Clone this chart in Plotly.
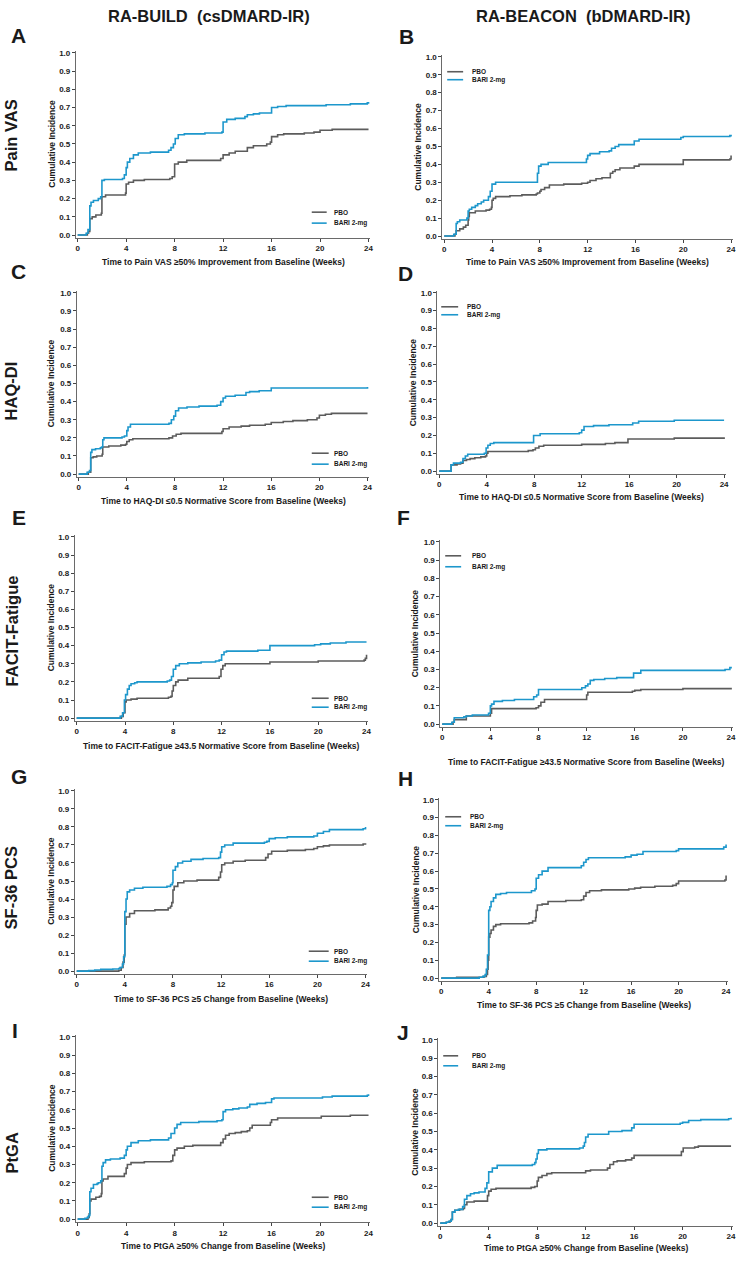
import plotly.graph_objects as go

W, H = 749, 1263
BLUE = "#1d97cc"
GREY = "#5c5c5c"
FONT = "Liberation Sans"

WEEK_TICKS = [0, 4, 8, 12, 16, 20, 24]
CI_TICKS = [0.0, 0.1, 0.2, 0.3, 0.4, 0.5, 0.6, 0.7, 0.8, 0.9, 1.0]
GROUPS = ["PBO", "BARI 2-mg"]
STUDIES = ["RA-BUILD\u00a0 (csDMARD-IR)", "RA-BEACON\u00a0 (bDMARD-IR)"]
OUTCOMES = ["Pain VAS", "HAQ-DI", "FACIT-Fatigue", "SF-36 PCS", "PtGA"]
X_TITLES = [
    "Time to Pain VAS \u226550% Improvement from Baseline (Weeks)",
    "Time to HAQ-DI \u22640.5 Normative Score from Baseline (Weeks)",
    "Time to FACIT-Fatigue \u226543.5 Normative Score from Baseline (Weeks)",
    "Time to SF-36 PCS \u22655 Change from Baseline (Weeks)",
    "Time to PtGA \u226550% Change from Baseline (Weeks)",
]

# step points (week, cumulative incidence)
A_PBO = [(0, 0), (0.8, 0.01), (0.9, 0.02), (1.0, 0.09), (1.2, 0.10), (1.5, 0.11), (1.95, 0.12), (2.0, 0.21),
         (2.3, 0.22), (3.95, 0.23), (4.0, 0.28), (4.2, 0.29), (4.6, 0.30), (5.5, 0.305), (7.6, 0.31), (7.8, 0.32),
         (8.0, 0.39), (8.3, 0.40), (9.0, 0.41), (11.8, 0.42), (12.0, 0.44), (12.5, 0.45), (13.0, 0.46), (14.0, 0.48),
         (14.5, 0.49), (15.6, 0.50), (15.9, 0.51), (16.0, 0.54), (16.5, 0.55), (17.0, 0.555), (18.7, 0.56),
         (19.5, 0.565), (20.0, 0.575), (21.0, 0.58), (24.0, 0.58)]
A_BARI = [(0, 0), (0.7, 0.01), (0.85, 0.03), (1.0, 0.16), (1.1, 0.18), (1.3, 0.19), (1.7, 0.20), (1.9, 0.21),
          (2.0, 0.30), (2.2, 0.305), (3.7, 0.31), (3.85, 0.33), (4.0, 0.37), (4.1, 0.40), (4.3, 0.42), (4.6, 0.44),
          (5.0, 0.45), (6.0, 0.455), (7.5, 0.465), (7.7, 0.48), (7.9, 0.50), (8.05, 0.53), (8.3, 0.55), (8.8, 0.555),
          (10.5, 0.56), (11.9, 0.565), (12.0, 0.62), (12.3, 0.635), (13.0, 0.64), (13.8, 0.65), (14.0, 0.66),
          (14.5, 0.665), (15.0, 0.67), (16.0, 0.70), (16.5, 0.705), (17.2, 0.71), (20.5, 0.715), (22.5, 0.72),
          (23.9, 0.725), (24.0, 0.73)]
B_PBO = [(0, 0), (0.9, 0.01), (1.0, 0.03), (1.3, 0.04), (1.6, 0.05), (1.8, 0.06), (2.0, 0.09), (2.05, 0.11),
         (2.1, 0.13), (2.6, 0.14), (3.5, 0.145), (3.8, 0.15), (3.95, 0.16), (4.0, 0.20), (4.1, 0.21), (4.3, 0.22),
         (5.5, 0.225), (6.5, 0.23), (7.7, 0.235), (7.8, 0.24), (8.0, 0.25), (8.1, 0.26), (8.4, 0.27), (8.8, 0.285),
         (10.0, 0.29), (11.5, 0.295), (12.0, 0.30), (12.2, 0.31), (12.7, 0.32), (13.2, 0.325), (13.9, 0.35),
         (14.1, 0.36), (14.3, 0.37), (14.7, 0.38), (15.9, 0.39), (16.3, 0.40), (20.0, 0.425), (23.9, 0.43),
         (24.0, 0.45)]
B_BARI = [(0, 0), (0.8, 0.01), (1.0, 0.07), (1.1, 0.08), (1.3, 0.09), (1.9, 0.10), (2.0, 0.14), (2.1, 0.15),
          (2.3, 0.16), (2.6, 0.17), (2.8, 0.18), (3.1, 0.19), (3.3, 0.20), (3.7, 0.22), (3.85, 0.25), (4.0, 0.29),
          (4.3, 0.30), (7.8, 0.35), (7.9, 0.39), (8.1, 0.40), (8.7, 0.41), (11.9, 0.43), (12.0, 0.45), (12.2, 0.46),
          (13.0, 0.47), (13.8, 0.475), (14.0, 0.49), (14.3, 0.50), (14.6, 0.51), (15.9, 0.53), (16.3, 0.54),
          (19.8, 0.55), (20.0, 0.555), (23.9, 0.56), (24.0, 0.565)]
C_PBO = [(0, 0), (0.8, 0.01), (1.0, 0.09), (1.2, 0.095), (1.5, 0.10), (1.95, 0.11), (2.0, 0.15), (2.5, 0.155),
         (3.5, 0.16), (3.9, 0.165), (4.0, 0.18), (4.2, 0.19), (4.5, 0.195), (7.5, 0.20), (7.8, 0.21), (8.1, 0.22),
         (8.5, 0.225), (11.9, 0.235), (12.0, 0.25), (12.5, 0.26), (13.5, 0.265), (14.2, 0.27), (15.5, 0.275),
         (16.0, 0.285), (17.0, 0.29), (17.8, 0.295), (19.0, 0.30), (19.8, 0.31), (20.0, 0.325), (20.5, 0.33),
         (21.0, 0.335), (24.0, 0.335)]
C_BARI = [(0, 0), (0.7, 0.01), (0.9, 0.02), (1.0, 0.12), (1.1, 0.135), (1.4, 0.14), (1.8, 0.145), (1.9, 0.15),
          (2.0, 0.19), (2.1, 0.20), (3.6, 0.205), (3.8, 0.21), (4.0, 0.24), (4.1, 0.26), (4.3, 0.275), (7.5, 0.28),
          (7.7, 0.30), (7.9, 0.32), (8.05, 0.35), (8.3, 0.365), (9.0, 0.37), (10.0, 0.375), (11.5, 0.38),
          (11.8, 0.40), (12.0, 0.42), (12.2, 0.43), (13.0, 0.435), (13.9, 0.45), (14.2, 0.455), (15.0, 0.46),
          (16.0, 0.475), (23.9, 0.475), (24.0, 0.48)]
D_PBO = [(0, 0), (1.0, 0.035), (1.5, 0.04), (1.8, 0.045), (2.0, 0.06), (2.3, 0.065), (2.6, 0.07), (3.0, 0.075),
         (3.5, 0.08), (3.9, 0.085), (4.0, 0.10), (4.1, 0.11), (7.5, 0.115), (7.9, 0.12), (8.1, 0.13), (8.4, 0.14),
         (8.8, 0.145), (12.0, 0.15), (14.0, 0.155), (14.8, 0.16), (15.9, 0.18), (19.8, 0.185), (24.0, 0.19)]
D_BARI = [(0, 0), (1.0, 0.035), (1.2, 0.045), (1.8, 0.05), (2.0, 0.07), (2.2, 0.085), (2.4, 0.095), (3.8, 0.10),
          (3.95, 0.13), (4.1, 0.145), (4.3, 0.155), (4.6, 0.16), (7.95, 0.20), (8.5, 0.21), (11.8, 0.215),
          (12.0, 0.23), (12.2, 0.25), (13.0, 0.255), (14.3, 0.26), (16.3, 0.27), (16.8, 0.28), (19.8, 0.285),
          (24.0, 0.285)]
E_PBO = [(0, 0), (3.7, 0.01), (3.85, 0.03), (4.0, 0.09), (4.1, 0.10), (4.5, 0.105), (5.0, 0.11), (7.6, 0.115),
         (7.8, 0.12), (7.9, 0.15), (8.0, 0.18), (8.2, 0.20), (8.4, 0.21), (9.2, 0.22), (11.8, 0.23), (11.95, 0.27),
         (12.1, 0.29), (12.3, 0.30), (16.0, 0.31), (20.0, 0.315), (23.8, 0.32), (23.9, 0.33), (24.0, 0.35)]
E_BARI = [(0, 0), (3.6, 0.01), (3.8, 0.03), (3.95, 0.10), (4.05, 0.13), (4.2, 0.16), (4.35, 0.18), (4.5, 0.19),
          (4.8, 0.195), (5.0, 0.20), (7.5, 0.205), (7.7, 0.21), (7.85, 0.23), (8.0, 0.27), (8.2, 0.29), (8.5, 0.30),
          (9.2, 0.305), (10.3, 0.31), (11.5, 0.315), (11.8, 0.32), (12.0, 0.35), (12.2, 0.365), (12.4, 0.37),
          (15.0, 0.375), (16.0, 0.40), (19.7, 0.405), (20.2, 0.41), (21.0, 0.415), (22.3, 0.42), (24.0, 0.42)]
F_PBO = [(0, 0), (0.9, 0.01), (1.0, 0.025), (2.0, 0.045), (4.0, 0.06), (4.1, 0.085), (7.8, 0.09), (8.0, 0.10),
         (8.2, 0.12), (8.5, 0.135), (12.0, 0.16), (12.1, 0.175), (15.8, 0.18), (16.0, 0.185), (16.5, 0.19),
         (20.0, 0.195), (24.0, 0.20)]
F_BARI = [(0, 0), (0.8, 0.01), (1.0, 0.035), (1.8, 0.04), (2.0, 0.045), (2.5, 0.05), (3.85, 0.06), (4.0, 0.10),
          (4.1, 0.11), (4.3, 0.125), (5.0, 0.13), (6.0, 0.135), (7.6, 0.15), (7.85, 0.16), (8.0, 0.19),
          (11.6, 0.20), (11.9, 0.21), (12.1, 0.22), (12.3, 0.24), (12.6, 0.245), (13.5, 0.25), (14.5, 0.255),
          (15.9, 0.28), (16.5, 0.295), (23.5, 0.30), (23.9, 0.31), (24.0, 0.315)]
G_PBO = [(0, 0), (3.5, 0.005), (3.7, 0.02), (3.85, 0.05), (3.95, 0.09), (4.0, 0.26), (4.1, 0.30), (4.4, 0.32),
         (4.8, 0.335), (6.5, 0.34), (7.6, 0.35), (7.8, 0.36), (7.9, 0.38), (8.0, 0.45), (8.1, 0.47), (8.4, 0.49),
         (8.9, 0.50), (10.0, 0.505), (11.8, 0.52), (11.95, 0.55), (12.05, 0.59), (12.3, 0.60), (13.0, 0.61),
         (14.0, 0.615), (15.7, 0.63), (15.9, 0.65), (16.2, 0.665), (17.5, 0.67), (19.0, 0.675), (19.7, 0.68),
         (20.0, 0.69), (20.5, 0.695), (21.0, 0.70), (23.8, 0.705), (24.0, 0.71)]
G_BARI = [(0, 0), (1.0, 0.003), (1.5, 0.006), (2.0, 0.01), (3.0, 0.012), (3.5, 0.015), (3.6, 0.02), (3.8, 0.04),
          (3.9, 0.08), (4.0, 0.33), (4.1, 0.40), (4.2, 0.44), (4.4, 0.45), (4.8, 0.46), (5.5, 0.465), (7.5, 0.47),
          (7.8, 0.48), (7.95, 0.49), (8.0, 0.56), (8.2, 0.58), (8.4, 0.60), (8.8, 0.61), (9.5, 0.62),
          (10.5, 0.625), (11.8, 0.63), (11.95, 0.66), (12.05, 0.69), (12.3, 0.70), (13.0, 0.71), (15.6, 0.715),
          (15.8, 0.72), (16.0, 0.735), (16.5, 0.74), (17.5, 0.745), (19.7, 0.75), (20.0, 0.765), (20.5, 0.775),
          (21.0, 0.785), (23.8, 0.79), (24.0, 0.80)]
H_PBO = [(0, 0), (1.3, 0.005), (3.6, 0.01), (3.8, 0.02), (3.9, 0.05), (3.95, 0.10), (4.0, 0.23), (4.1, 0.25),
         (4.2, 0.27), (4.4, 0.29), (4.6, 0.30), (5.0, 0.305), (7.4, 0.31), (7.7, 0.32), (7.95, 0.34), (8.0, 0.38),
         (8.1, 0.41), (8.5, 0.415), (9.0, 0.43), (10.5, 0.435), (11.8, 0.44), (12.0, 0.46), (12.2, 0.48),
         (12.5, 0.49), (13.5, 0.495), (15.8, 0.50), (16.3, 0.505), (16.8, 0.51), (18.0, 0.515), (19.5, 0.52),
         (19.8, 0.53), (20.0, 0.545), (23.9, 0.55), (24.0, 0.575)]
H_BARI = [(0, 0), (3.2, 0.005), (3.5, 0.01), (3.7, 0.02), (3.8, 0.05), (3.9, 0.13), (4.0, 0.38), (4.1, 0.40),
          (4.2, 0.43), (4.4, 0.45), (4.6, 0.47), (5.0, 0.475), (5.5, 0.48), (7.6, 0.49), (7.9, 0.50), (8.0, 0.56),
          (8.2, 0.58), (8.5, 0.60), (9.0, 0.62), (11.8, 0.63), (12.0, 0.65), (12.2, 0.665), (12.4, 0.675),
          (15.5, 0.68), (16.0, 0.69), (16.5, 0.695), (17.0, 0.71), (19.8, 0.715), (20.0, 0.725), (23.8, 0.735),
          (24.0, 0.75)]
I_PBO = [(0, 0), (0.85, 0.01), (0.95, 0.03), (1.0, 0.10), (1.1, 0.11), (1.5, 0.12), (1.8, 0.125), (1.95, 0.14),
         (2.0, 0.21), (2.1, 0.22), (2.5, 0.235), (3.85, 0.25), (4.0, 0.28), (4.1, 0.30), (4.4, 0.31), (5.5, 0.315),
         (7.7, 0.32), (7.85, 0.35), (8.0, 0.38), (8.2, 0.39), (8.8, 0.40), (9.5, 0.405), (11.8, 0.42), (12.0, 0.44),
         (12.2, 0.46), (12.5, 0.47), (13.0, 0.475), (13.5, 0.48), (14.0, 0.485), (14.2, 0.50), (14.4, 0.515),
         (15.9, 0.53), (16.0, 0.545), (16.5, 0.555), (20.1, 0.565), (22.5, 0.57), (24.0, 0.57)]
I_BARI = [(0, 0), (0.6, 0.005), (0.8, 0.01), (0.9, 0.02), (1.0, 0.15), (1.1, 0.17), (1.3, 0.19), (1.6, 0.195),
          (1.7, 0.20), (1.9, 0.21), (2.0, 0.29), (2.1, 0.31), (2.3, 0.325), (2.7, 0.33), (3.5, 0.335), (3.85, 0.35),
          (4.0, 0.38), (4.1, 0.40), (4.4, 0.42), (5.0, 0.43), (6.0, 0.435), (7.5, 0.445), (7.7, 0.47), (8.0, 0.50),
          (8.2, 0.52), (8.5, 0.53), (10.0, 0.535), (11.5, 0.54), (11.9, 0.545), (12.0, 0.59), (12.2, 0.60),
          (12.8, 0.605), (13.3, 0.61), (14.0, 0.615), (14.2, 0.63), (14.8, 0.635), (15.5, 0.64), (16.0, 0.66),
          (16.2, 0.665), (20.2, 0.67), (21.0, 0.675), (23.9, 0.68), (24.0, 0.685)]
J_PBO = [(0, 0), (0.5, 0.005), (0.8, 0.01), (0.9, 0.02), (1.0, 0.06), (1.2, 0.07), (1.6, 0.075), (1.9, 0.08),
         (2.0, 0.10), (2.2, 0.115), (2.8, 0.12), (3.9, 0.15), (4.0, 0.175), (4.2, 0.185), (4.6, 0.19), (7.5, 0.195),
         (7.8, 0.20), (8.0, 0.23), (8.1, 0.25), (8.4, 0.26), (8.8, 0.27), (9.2, 0.275), (12.0, 0.285), (12.4, 0.29),
         (13.8, 0.30), (14.0, 0.32), (14.3, 0.335), (14.6, 0.34), (15.3, 0.345), (15.8, 0.355), (16.0, 0.37),
         (19.9, 0.39), (20.05, 0.41), (21.0, 0.415), (21.3, 0.42), (24.0, 0.42)]
J_BARI = [(0, 0), (0.5, 0.005), (0.7, 0.01), (0.9, 0.02), (1.0, 0.06), (1.2, 0.07), (1.5, 0.075), (1.85, 0.09),
          (2.0, 0.13), (2.2, 0.15), (2.5, 0.16), (2.8, 0.165), (3.2, 0.17), (3.7, 0.19), (3.85, 0.22), (4.0, 0.28),
          (4.3, 0.30), (4.7, 0.315), (7.6, 0.32), (7.8, 0.33), (7.9, 0.35), (8.0, 0.38), (8.1, 0.40), (8.8, 0.405),
          (11.5, 0.41), (11.8, 0.42), (11.9, 0.44), (12.0, 0.47), (12.2, 0.485), (13.9, 0.50), (15.0, 0.505),
          (15.8, 0.52), (16.0, 0.54), (19.8, 0.545), (20.0, 0.55), (20.5, 0.56), (21.5, 0.565), (23.8, 0.57),
          (24.0, 0.575)]

SERIES = {
    "A": (A_PBO, A_BARI), "B": (B_PBO, B_BARI), "C": (C_PBO, C_BARI), "D": (D_PBO, D_BARI),
    "E": (E_PBO, E_BARI), "F": (F_PBO, F_BARI), "G": (G_PBO, G_BARI), "H": (H_PBO, H_BARI),
    "I": (I_PBO, I_BARI), "J": (J_PBO, J_BARI),
}

# layout in pixels: x of week 0, x of week 24, y of 1.0, y of 0.0, y-title x, x-title y,
# legend (line x0, line x1, text x, y row1, y row2), panel letter (x, y)
GEOM = {
    "A": (78, 370, 53, 236, 52, 263, (313, 328, 333, 213, 224), (19, 36)),
    "B": (446, 734, 57, 237, 420, 263, (449, 465, 472, 72, 80), (408, 37)),
    "C": (79, 369, 294, 476, 52, 503, (313, 330, 333, 455, 466), (19, 273)),
    "D": (441, 727, 294, 473, 415, 499, (443, 460, 467, 308, 316), (407, 275)),
    "E": (77, 368, 539, 721, 51, 749, (313, 330, 333, 701, 710), (19, 520)),
    "F": (444, 734, 544, 727, 417, 765, (447, 463, 472, 558, 569), (405, 520)),
    "G": (77, 367, 794, 975, 51, 1003, (310, 330, 333, 955, 965), (19, 780)),
    "H": (443, 729, 803, 982, 418, 1009, (447, 463, 470, 820, 829), (407, 782)),
    "I": (78, 370, 1041, 1224, 52, 1251, (313, 330, 333, 1202, 1212), (15, 1035)),
    "J": (442, 734, 1044, 1228, 416, 1253, (445, 460, 472, 1060, 1070), (405, 1037)),
}
ROW_LABEL_Y = [136, 392, 633, 891, 1157]
DY = 3  # the page puts the figure a few pixels lower than the reference


def px(x):
    return x / W


def py(y):
    return 1 - (y - DY) / H


def note(text, x, y, size, angle=0, xanchor="center"):
    return dict(text=text, x=px(x), y=py(y), xref="paper", yref="paper",
                xanchor=xanchor, yanchor="middle", textangle=angle, showarrow=False,
                font=dict(size=size, **bold))


fig = go.Figure()
annotations = []
shapes = []
bold = dict(family=FONT, color="#1a1a1a", weight="bold")

for i, letter in enumerate("ABCDEFGHIJ"):
    n = i + 1
    row = i // 2
    x0, x24, y1, y0, ytx, xty, leg, lab = GEOM[letter]
    xs = "x" if n == 1 else f"x{n}"
    ys = "y" if n == 1 else f"y{n}"

    for pts, color, name in zip(SERIES[letter], [GREY, BLUE], GROUPS):
        fig.add_trace(go.Scatter(
            x=[p[0] for p in pts], y=[p[1] for p in pts],
            mode="lines", line=dict(color=color, width=1.6, shape="hv"),
            name=name, showlegend=False, xaxis=xs, yaxis=ys,
        ))

    # axis ranges padded slightly so the axis lines sit just outside 0
    sx = (x24 - x0) / 24
    sy = (y0 - y1)
    xr = (-0.15, 24.15)
    yr = (-0.015, 1.008)
    xd = [px(x0 + xr[0] * sx), px(x0 + xr[1] * sx)]
    yd = [py(y0 - yr[0] * sy), py(y0 - yr[1] * sy)]
    axis_style = dict(
        showline=True, linecolor="#6a6a6a", linewidth=1, ticks="outside", ticklen=3,
        tickcolor="#444", showgrid=False, zeroline=False, tickfont=dict(size=8, **bold),
    )
    fig.layout[f"xaxis{'' if n == 1 else n}"] = dict(
        domain=xd, range=list(xr), anchor=ys, tickvals=WEEK_TICKS, **axis_style)
    fig.layout[f"yaxis{'' if n == 1 else n}"] = dict(
        domain=yd, range=list(yr), anchor=xs, tickvals=CI_TICKS, tickformat=".1f", **axis_style)

    annotations.append(note("Cumulative Incidence", ytx, (y0 + y1) / 2, 8.5, angle=-90))
    annotations.append(note(X_TITLES[row], (x0 + x24) / 2, xty, 8.5))
    annotations.append(note(letter, lab[0], lab[1], 21))

    lx0, lx1, tx, ly1, ly2 = leg
    for yy, color, name in zip([ly1, ly2], [GREY, BLUE], GROUPS):
        shapes.append(dict(type="line", xref="paper", yref="paper",
                           x0=px(lx0), x1=px(lx1), y0=py(yy), y1=py(yy),
                           line=dict(color=color, width=1.6)))
        annotations.append(note(name, tx, yy, 6.5, xanchor="left"))

for k, lbl in enumerate(OUTCOMES):
    annotations.append(note(lbl, 12, ROW_LABEL_Y[k], 16.5, angle=-90))

for k, s in enumerate(STUDIES):
    annotations.append(note(s, [210, 585][k], 16, 16.5))

fig.update_layout(
    width=W, height=H, margin=dict(l=0, r=0, t=0, b=0),
    paper_bgcolor="white", plot_bgcolor="white",
    annotations=annotations, shapes=shapes, showlegend=False,
)

fig.write_html("out.html", config={"displayModeBar": False},
               post_script="document.body.style.margin='0px';")
